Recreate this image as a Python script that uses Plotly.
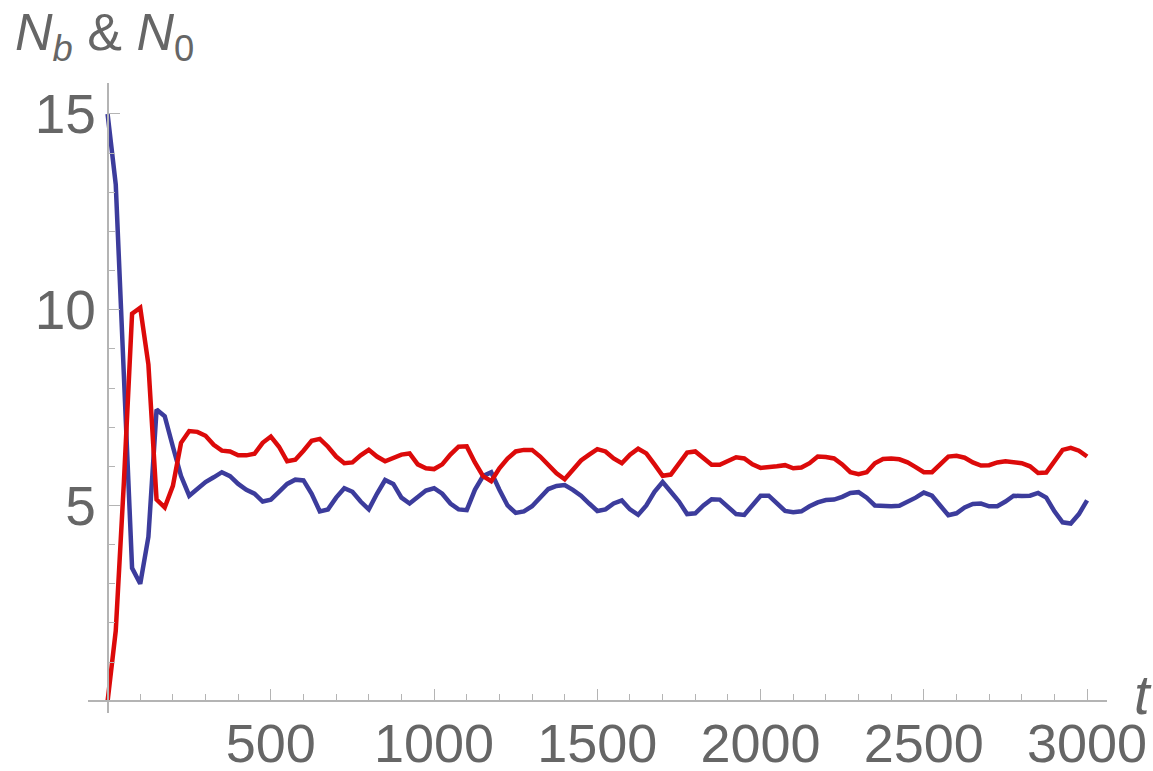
import plotly.graph_objects as go

# time grid (step 25) and the two populations
t = list(range(0, 3001, 25))

n_b = [15.0, 13.2, 8.3, 3.4, 3.0, 4.2, 7.45, 7.28, 6.5, 5.75,
       5.25, 5.44, 5.6, 5.72, 5.85, 5.75, 5.55, 5.4, 5.3, 5.1,
       5.15, 5.35, 5.55, 5.66, 5.64, 5.3, 4.85, 4.9, 5.2, 5.44,
       5.35, 5.1, 4.9, 5.3, 5.65, 5.55, 5.2, 5.05, 5.2, 5.38,
       5.44, 5.3, 5.05, 4.9, 4.88, 5.4, 5.75, 5.85, 5.4, 5.0,
       4.81, 4.85, 4.98, 5.2, 5.42, 5.5, 5.52, 5.4, 5.25, 5.05,
       4.86, 4.9, 5.05, 5.13, 4.9, 4.76, 5.0, 5.35, 5.6, 5.35,
       5.1, 4.78, 4.8, 5.0, 5.16, 5.15, 4.95, 4.78, 4.76, 5.0,
       5.25, 5.25, 5.05, 4.86, 4.83, 4.85, 4.98, 5.08, 5.14, 5.15,
       5.22, 5.32, 5.34, 5.2, 5.0, 4.98, 4.98, 4.99, 5.08, 5.2,
       5.33, 5.25, 5.0, 4.75, 4.8, 4.95, 5.04, 5.05, 4.98, 4.98,
       5.1, 5.25, 5.24, 5.25, 5.32, 5.2, 4.85, 4.57, 4.54, 4.78,
       5.13]

n_0 = [0.0, 1.8, 5.6, 9.9, 10.05, 8.6, 5.15, 4.95, 5.5, 6.6,
       6.9, 6.88, 6.78, 6.55, 6.4, 6.38, 6.28, 6.28, 6.32, 6.6,
       6.76, 6.5, 6.13, 6.17, 6.4, 6.65, 6.7, 6.5, 6.25, 6.08,
       6.1, 6.28, 6.42, 6.25, 6.13, 6.2, 6.3, 6.33, 6.05, 5.95,
       5.93, 6.05, 6.3, 6.5, 6.51, 6.1, 5.75, 5.62, 5.95, 6.2,
       6.38, 6.42, 6.42, 6.25, 6.02, 5.82, 5.67, 5.9, 6.15, 6.3,
       6.44, 6.38, 6.2, 6.08, 6.3, 6.45, 6.33, 6.05, 5.76, 5.79,
       6.05, 6.35, 6.38, 6.2, 6.04, 6.04, 6.15, 6.23, 6.2, 6.05,
       5.96, 5.97, 6.0, 6.03, 5.95, 5.97, 6.08, 6.25, 6.24, 6.2,
       6.05, 5.85, 5.8, 5.85, 6.08, 6.19, 6.2, 6.18, 6.1, 5.98,
       5.85, 5.85, 6.05, 6.25, 6.27, 6.22, 6.1, 6.02, 6.03, 6.1,
       6.13, 6.11, 6.08, 6.0, 5.83, 5.84, 6.12, 6.42, 6.47, 6.4,
       6.25]

x_ticks = [500, 1000, 1500, 2000, 2500, 3000]
y_ticks = [5, 10, 15]

BLUE = "#3c3c9c"
RED = "#dc0a0a"
AXIS = "#b4b4b4"
TEXT = "#666666"
FONT = "Liberation Sans"

x_range = [-60, 3061]
y_range = [-0.3, 15.79]

fig = go.Figure()
fig.add_trace(go.Scatter(x=t, y=n_b, mode="lines",
                         line=dict(color=BLUE, width=4.5), showlegend=False))
fig.add_trace(go.Scatter(x=t, y=n_0, mode="lines",
                         line=dict(color=RED, width=4.5), showlegend=False))

fig.update_layout(
    width=1153, height=771,
    margin=dict(l=88, r=46, t=83, b=58),
    paper_bgcolor="white", plot_bgcolor="white",
    font=dict(family=FONT, color=TEXT, size=55),
    xaxis=dict(
        range=x_range, tickvals=x_ticks, showgrid=False, zeroline=False,
        showline=True, linecolor=AXIS, linewidth=1.5, automargin=False,
        ticks="inside", ticklen=12, tickwidth=1.3, tickcolor=AXIS,
        ticklabelstandoff=-5,
        minor=dict(dtick=100, tick0=0, ticks="inside", ticklen=7,
                   tickwidth=1, tickcolor=AXIS, showgrid=False),
        anchor="free", position=-y_range[0] / (y_range[1] - y_range[0]),
        tickfont=dict(size=54, color=TEXT, family=FONT),
    ),
    yaxis=dict(
        range=y_range, tickvals=y_ticks, showgrid=False, zeroline=False,
        showline=True, linecolor=AXIS, linewidth=1.5, automargin=False,
        ticks="inside", ticklen=12, tickwidth=1.3, tickcolor=AXIS,
        minor=dict(dtick=1, tick0=0, ticks="inside", ticklen=7,
                   tickwidth=1, tickcolor=AXIS, showgrid=False),
        anchor="free", position=-x_range[0] / (x_range[1] - x_range[0]),
        tickfont=dict(size=55, color=TEXT, family=FONT),
    ),
    annotations=[
        dict(text="<i>N<sub>b</sub></i> & <i>N</i><sub>0</sub>",
             xref="paper", yref="paper", x=-0.074, y=1.075,
             xanchor="left", yanchor="middle", showarrow=False,
             font=dict(size=52, color=TEXT, family=FONT)),
        dict(text="<i>t</i>", xref="paper", yref="paper", x=1.035, y=0.03,
             xanchor="center", yanchor="middle", showarrow=False,
             font=dict(size=56, color=TEXT, family=FONT)),
    ],
)

fig.write_html("out.html")
